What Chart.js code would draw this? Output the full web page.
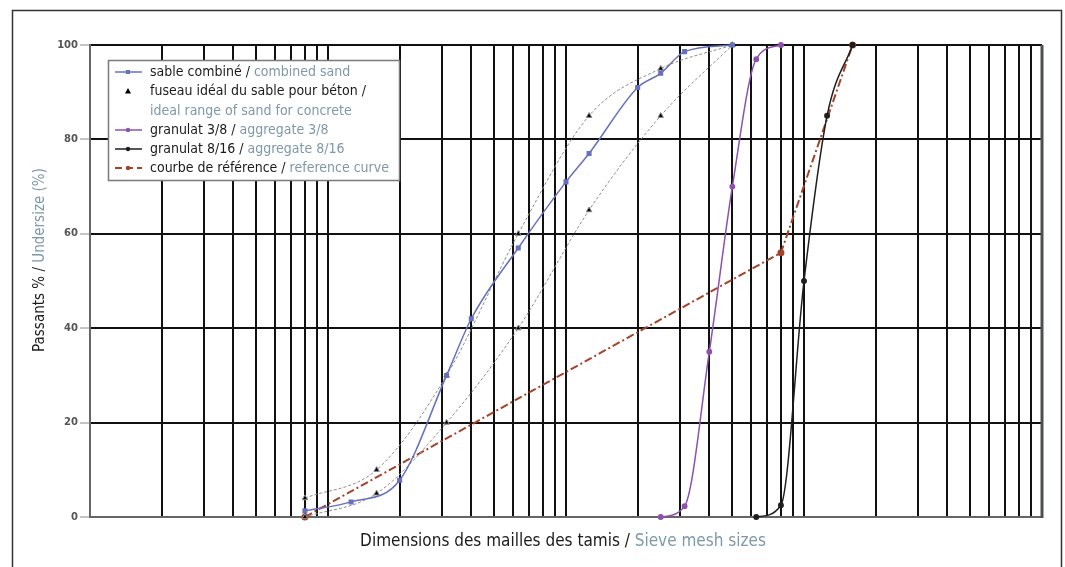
<!DOCTYPE html>
<html><head><meta charset="utf-8">
<script src="https://cdn.jsdelivr.net/npm/chart.js@4/dist/chart.umd.min.js"></script>
<style>html,body{margin:0;padding:0;background:#fff;}</style>
</head><body>
<canvas id="c" width="1065" height="567"></canvas>
<script>
// ---- data (sieve sizes in mm, passing in %) ----
const sandSizes      = [0.08, 0.125, 0.2, 0.315, 0.4, 0.63, 1, 1.25, 2, 2.5, 3.15, 5];
const sandPassing    = [1.3, 3.2, 7.8, 30, 42, 57, 71, 77, 91, 94, 98.6, 100];
const rangeSizes     = [0.08, 0.16, 0.315, 0.63, 1.25, 2.5, 5];
const rangeUpper     = [4, 10, 30, 60, 85, 95, 100];
const rangeLower     = [0, 5, 20, 40, 65, 85, 100];
const agg38Sizes     = [2.5, 3.15, 4, 5, 6.3, 8];
const agg38Passing   = [0, 2.3, 35, 70, 97, 100];
const agg816Sizes    = [6.3, 8, 10, 12.5, 16];
const agg816Passing  = [0, 2.5, 50, 85, 100];
const refSizes       = [0.08, 8, 16];
const refPassing     = [0, 56, 100];
const yTicks         = [0, 20, 40, 60, 80, 100];
const gridDecades    = [0.01, 0.1, 1, 10];
const gridMultiples  = [1, 2, 3, 4, 5, 6, 7, 8, 9];

const legendItems = [
  {fr: 'sable combiné / ', en: 'combined sand'},
  {fr: 'fuseau idéal du sable pour béton / ', en: ''},
  {fr: '', en: 'ideal range of sand for concrete'},
  {fr: 'granulat 3/8 / ', en: 'aggregate 3/8'},
  {fr: 'granulat 8/16 / ', en: 'aggregate 8/16'},
  {fr: 'courbe de référence / ', en: 'reference curve'}
];
const xTitle = {fr: 'Dimensions des mailles des tamis / ', en: 'Sieve mesh sizes'};
const yTitle = {fr: 'Passants % / ', en: 'Undersize (%)'};

const FONT = "'Liberation Sans Narrow','DejaVu Sans Condensed','Arial Narrow',sans-serif";
const BLACK_TXT = '#1b1b1b', GREY_TXT = '#7f98aa';
const C_SAND = '#6770bd', C_38 = '#8c52ad', C_816 = '#1e1e1e', C_REF = '#a4432a';

const pts = (xs, ys) => xs.map((x, i) => ({x: x, y: ys[i]}));
const gridValues = [];
gridDecades.forEach(d => gridMultiples.forEach(m => gridValues.push(+(m * d).toPrecision(6))));
gridValues.push(100);

function drawTwoTone(ctx, parts, x, y, align) {
  const w1 = ctx.measureText(parts.fr).width, w2 = ctx.measureText(parts.en).width;
  let sx = align === 'center' ? x - (w1 + w2) / 2 : x;
  ctx.textAlign = 'left';
  ctx.fillStyle = BLACK_TXT; ctx.fillText(parts.fr, sx, y);
  ctx.fillStyle = GREY_TXT;  ctx.fillText(parts.en, sx + w1, y);
}

const decor = {
  id: 'decor',
  afterDraw(chart) {
    const ctx = chart.ctx, a = chart.chartArea;
    ctx.save();
    // outer frame
    ctx.strokeStyle = '#333'; ctx.lineWidth = 1.5;
    ctx.beginPath(); ctx.moveTo(12.5, 567); ctx.lineTo(12.5, 10.5); ctx.lineTo(1061.5, 10.5); ctx.lineTo(1061.5, 567); ctx.stroke();
    // right plot edge
    ctx.strokeStyle = '#4a4f52'; ctx.lineWidth = 3;
    ctx.beginPath(); ctx.moveTo(a.right, a.top); ctx.lineTo(a.right, a.bottom + 1); ctx.stroke();
    // titles
    ctx.textBaseline = 'middle';
    ctx.font = '17px ' + FONT;
    drawTwoTone(ctx, xTitle, 563, 542, 'center');
    ctx.font = '15px ' + FONT;
    ctx.save(); ctx.translate(40, 260); ctx.rotate(-Math.PI / 2);
    drawTwoTone(ctx, yTitle, 0, 0, 'center'); ctx.restore();
    // legend
    const bx = 108, by = 60, bw = 291, bh = 120;
    ctx.fillStyle = '#fff'; ctx.fillRect(bx, by, bw, bh);
    ctx.strokeStyle = '#7a7a7a'; ctx.lineWidth = 1.5; ctx.strokeRect(bx + 0.5, by + 0.5, bw, bh);
    const rows = [72, 91, 110.5, 130, 149, 168];
    ctx.font = '14px ' + FONT;
    const samples = [
      {line: C_SAND, dash: [], mk: 'rect', mc: C_SAND},
      {line: null, mk: 'tri', mc: '#000'},
      null,
      {line: C_38, dash: [], mk: 'dot', mc: C_38},
      {line: C_816, dash: [], mk: 'dot', mc: C_816},
      {line: C_REF, dash: [7, 4], mk: 'dot', mc: C_REF}
    ];
    rows.forEach((ry, i) => {
      const s = samples[i];
      if (s) {
        if (s.line) {
          ctx.strokeStyle = s.line; ctx.lineWidth = s.dash.length ? 2 : 1.5; ctx.setLineDash(s.dash);
          ctx.beginPath(); ctx.moveTo(115, ry); ctx.lineTo(142, ry); ctx.stroke(); ctx.setLineDash([]);
        }
        ctx.fillStyle = s.mc;
        if (s.mk === 'rect') ctx.fillRect(126, ry - 2, 4, 4);
        else if (s.mk === 'dot') { ctx.beginPath(); ctx.arc(128, ry, 2.2, 0, Math.PI * 2); ctx.fill(); }
        else { ctx.beginPath(); ctx.moveTo(128, ry - 3); ctx.lineTo(131, ry + 2.5); ctx.lineTo(125, ry + 2.5); ctx.closePath(); ctx.fill(); }
      }
      drawTwoTone(ctx, legendItems[i], 150, ry + 0.5, 'left');
    });
    ctx.restore();
  }
};

new Chart(document.getElementById('c'), {
  type: 'line',
  data: {
    datasets: [
      {label: 'sable combiné', data: pts(sandSizes, sandPassing), borderColor: C_SAND, backgroundColor: C_SAND,
       borderWidth: 1.5, pointStyle: 'rect', pointRadius: 2.5, cubicInterpolationMode: 'monotone', clip: false},
      {label: 'fuseau sup', data: pts(rangeSizes, rangeUpper), borderColor: '#8d8d8d', backgroundColor: '#000',
       borderWidth: 1, borderDash: [3, 2], pointStyle: 'triangle', pointRadius: 3.2, cubicInterpolationMode: 'monotone', clip: false},
      {label: 'fuseau inf', data: pts(rangeSizes, rangeLower), borderColor: '#8d8d8d', backgroundColor: '#000',
       borderWidth: 1, borderDash: [3, 2], pointStyle: 'triangle', pointRadius: 3.2, cubicInterpolationMode: 'monotone', clip: false},
      {label: 'granulat 3/8', data: pts(agg38Sizes, agg38Passing), borderColor: C_38, backgroundColor: C_38,
       borderWidth: 1.5, pointRadius: 2.2, cubicInterpolationMode: 'monotone', clip: false},
      {label: 'granulat 8/16', data: pts(agg816Sizes, agg816Passing), borderColor: C_816, backgroundColor: C_816,
       borderWidth: 1.5, pointRadius: 2.2, cubicInterpolationMode: 'monotone', clip: false},
      {label: 'courbe de référence', data: pts(refSizes, refPassing), borderColor: C_REF, backgroundColor: C_REF,
       borderWidth: 2, borderDash: [8, 3, 2, 3], pointRadius: 2.5, tension: 0, clip: false}
    ]
  },
  options: {
    responsive: false, animation: false, devicePixelRatio: 1,
    layout: {padding: {left: 0, right: 23, top: 45, bottom: 0}},
    plugins: {legend: {display: false}, tooltip: {enabled: false}},
    elements: {point: {borderWidth: 0}},
    scales: {
      x: {
        type: 'logarithmic', min: 0.01, max: 100,
        afterBuildTicks: s => { s.ticks = gridValues.map(v => ({value: v})); },
        afterFit: s => { s.height = 50; },
        ticks: {display: false},
        grid: {color: '#111', lineWidth: 2, drawTicks: false},
        border: {display: true, color: '#666', width: 2}
      },
      y: {
        min: 0, max: 100,
        afterBuildTicks: s => { s.ticks = yTicks.map(v => ({value: v})); },
        afterFit: s => { s.width = 90; },
        ticks: {font: {family: "'DejaVu Sans', sans-serif", size: 10, weight: 'bold'}, color: '#555', padding: 2},
        grid: {color: '#111', lineWidth: 2, tickColor: '#8a8a8a', tickWidth: 1, tickLength: 10},
        border: {display: true, color: '#666', width: 2}
      }
    }
  },
  plugins: [decor]
});
</script>
</body></html>
